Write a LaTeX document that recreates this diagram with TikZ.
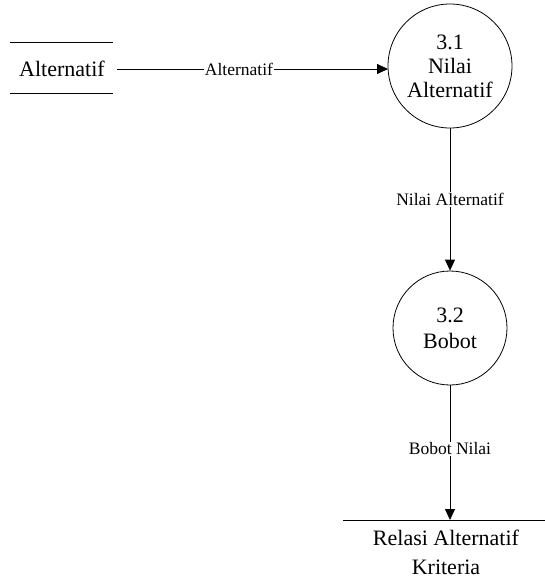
\documentclass[tikz,border=0pt]{standalone}
\usepackage{fontspec}
\setmainfont{Liberation Serif}
\newfontfamily\tnr{Liberation Serif}
\usetikzlibrary{arrows.meta}
\begin{document}
\begin{tikzpicture}[x=1pt,y=-1pt,
  line width=0.8pt,
  proc/.style={circle,draw,minimum size=#1,inner sep=0pt,align=center,font=\tnr\fontsize{22}{24}\selectfont},
  storetxt/.style={inner sep=0pt,align=center,font=\tnr\fontsize{22}{29}\selectfont},
  flowlbl/.style={fill=white,inner sep=1pt,font=\tnr\fontsize{17.5}{19}\selectfont},
  flow/.style={-{Triangle[length=11pt,width=10pt]}}]
\useasboundingbox (0,0) rectangle (545,584);
% store Alternatif
\coordinate (s1a) at (10,42); \coordinate (s1b) at (113,42);
\coordinate (s1c) at (10,93); \coordinate (s1d) at (113,93);
\draw (s1a) -- (s1b);
\draw (s1c) -- (s1d);
\node[storetxt] (alt) at (62,69) {Alternatif};
% process 3.1
\node[proc=124pt] (p1) at (450,66) {3.1\\Nilai\\Alternatif};
% process 3.2
\node[proc=114pt] (p2) at (450,328) {3.2\\[2pt]Bobot};
% store Relasi
\coordinate (s2a) at (343,520); \coordinate (s2b) at (545,520);
\draw (s2a) -- (s2b);
\node[storetxt] (rel) at (446,552) {Relasi Alternatif\\Kriteria};
\coordinate (s2top) at (450,520);
% flows
\coordinate (a0) at (117,69);
\coordinate (a1) at (388,69);
\draw[flow] (a0) -- node[flowlbl,pos=0.45]{Alternatif} (a1);
\draw[flow] (p1.south) -- node[flowlbl,pos=0.5]{Nilai Alternatif} (p2.north);
\draw[flow] (p2.south) -- node[flowlbl,pos=0.47]{Bobot Nilai} (s2top);
\end{tikzpicture}
\end{document}
